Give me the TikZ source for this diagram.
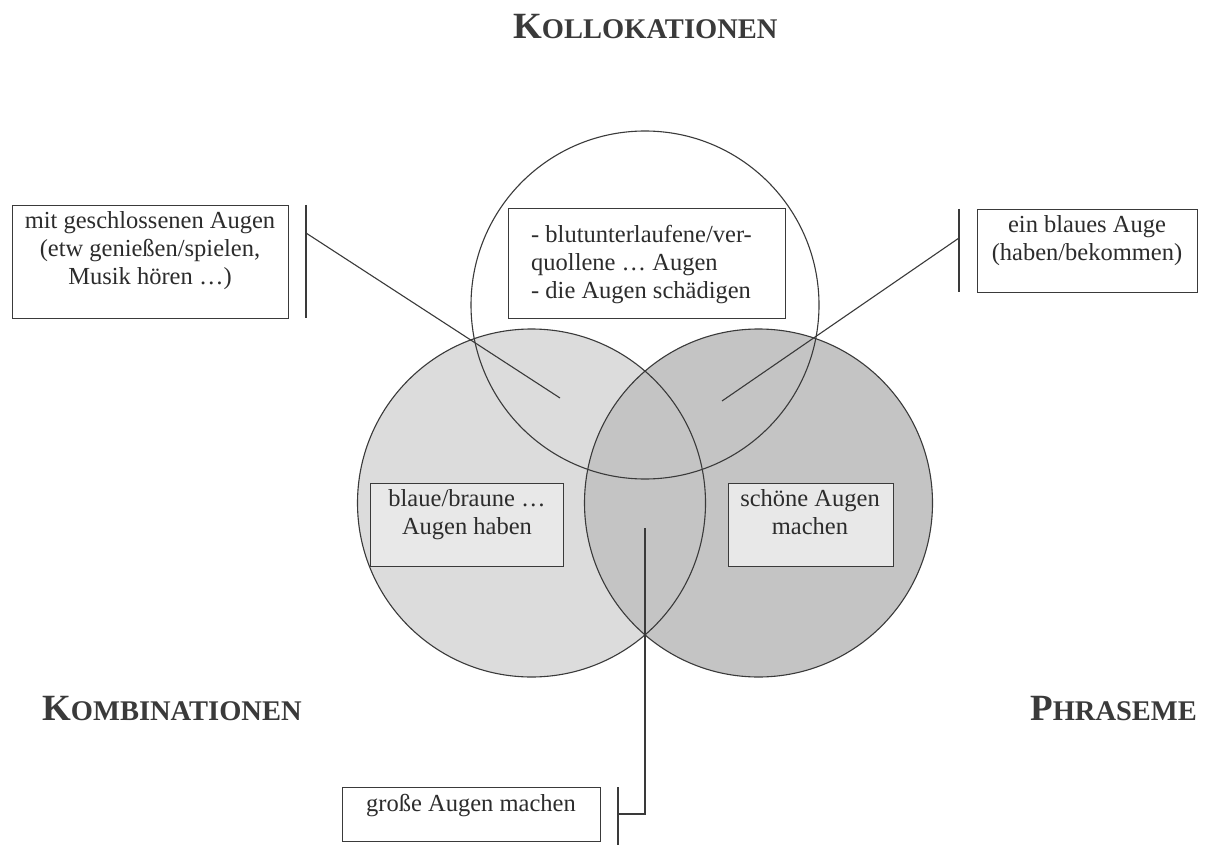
\documentclass[tikz,border=0pt]{standalone}
\usepackage{fontspec}
\setmainfont{Liberation Serif}
\definecolor{inkgray}{HTML}{3A3A3A}
\definecolor{txtgray}{HTML}{2C2C2C}
\definecolor{kombifill}{HTML}{DCDCDC}
\definecolor{phrasfill}{HTML}{C4C4C4}
\definecolor{boxfill}{HTML}{E8E8E8}
\begin{document}
\begin{tikzpicture}[x=1pt,y=-1pt,
  ink/.style={draw=inkgray, line width=1.1pt},
  frame/.style={ink, rectangle, inner sep=0pt, anchor=north west},
  txt/.style={inner sep=0pt, text=txtgray, font=\fontsize{24.5}{28}\selectfont},
  heading/.style={inner sep=0pt, anchor=base west, text=inkgray, font=\bfseries}]
\useasboundingbox (0,0) rectangle (1207,845);
\fill[white] (0,0) rectangle (1207,845);

% circle centres
\coordinate (cKoll) at (645,305);
\coordinate (cKomb) at (531.5,503);
\coordinate (cPhra) at (758.5,503);

% shaded sets
\fill[kombifill] (cKomb) circle[radius=174pt];
\fill[phrasfill] (cPhra) circle[radius=174pt];
% outlines
\draw[ink] (cKomb) circle[radius=174pt];
\draw[ink] (cPhra) circle[radius=174pt];
\draw[ink] (cKoll) circle[radius=174pt];

% headings in small caps
\node[heading] (hKoll) at (513,39) {\fontsize{37}{40}\selectfont K\fontsize{28.5}{30}\selectfont OLLOKATIONEN};
\node[heading] (hKomb) at (42,720) {\fontsize{37}{40}\selectfont K\fontsize{28.5}{30}\selectfont OMBINATIONEN};
\node[heading] (hPhra) at (1030,720) {\fontsize{37}{40}\selectfont P\fontsize{28.5}{30}\selectfont HRASEME};

% boxes
\node[frame, fill=white, minimum width=276pt, minimum height=113pt] (bGeschl) at (12,205) {};
\node[txt, anchor=north, align=center] (tGeschl) at (150,211) {mit geschlossenen Augen\\(etw genießen/spielen,\\Musik hören …)};

\node[frame, fill=white, minimum width=220pt, minimum height=83pt] (bBlau) at (977,209) {};
\node[txt, anchor=north, align=center] (tBlau) at (1087,215) {ein blaues Auge\\(haben/bekommen)};

\node[frame, fill=white, minimum width=277pt, minimum height=110pt] (bBlut) at (508,208) {};
\node[txt, anchor=north west, align=left] (tBlut) at (531,225) {- blutunterlaufene/ver-\\quollene … Augen\\- die Augen schädigen};

\node[frame, fill=boxfill, minimum width=193pt, minimum height=83pt] (bBraun) at (370,483) {};
\node[txt, anchor=north, align=center] (tBraun) at (467,489) {blaue/braune …\\Augen haben};

\node[frame, fill=boxfill, minimum width=165pt, minimum height=83pt] (bSchoen) at (728,483) {};
\node[txt, anchor=north, align=center] (tSchoen) at (810,489) {schöne Augen\\machen};

\node[frame, fill=white, minimum width=258pt, minimum height=54pt] (bGross) at (342,787) {};
\node[txt, anchor=north, align=center] (tGross) at (471,794) {große Augen machen};

% bars beside the boxes
\coordinate (barGtop) at (306,205);
\coordinate (barGbot) at (306,318);
\coordinate (barGmid) at (306,233);
\coordinate (barBtop) at (959,209);
\coordinate (barBbot) at (959,292);
\coordinate (barBmid) at (959,238);
\coordinate (barStop) at (618,787);
\coordinate (barSbot) at (618,845);
\coordinate (barSmid) at (618,814);
\draw[ink] (barGtop) -- (barGbot);
\draw[ink] (barBtop) -- (barBbot);
\draw[ink] (barStop) -- (barSbot);

% pointers into the regions
\coordinate (pKollKomb) at (560,398);
\coordinate (pKollPhra) at (722,401);
\coordinate (pKombPhra) at (645,528);
\draw[ink] (barGmid) -- (pKollKomb);
\draw[ink] (barBmid) -- (pKollPhra);
\draw[ink] (barSmid) -| (pKombPhra);
\end{tikzpicture}
\end{document}
